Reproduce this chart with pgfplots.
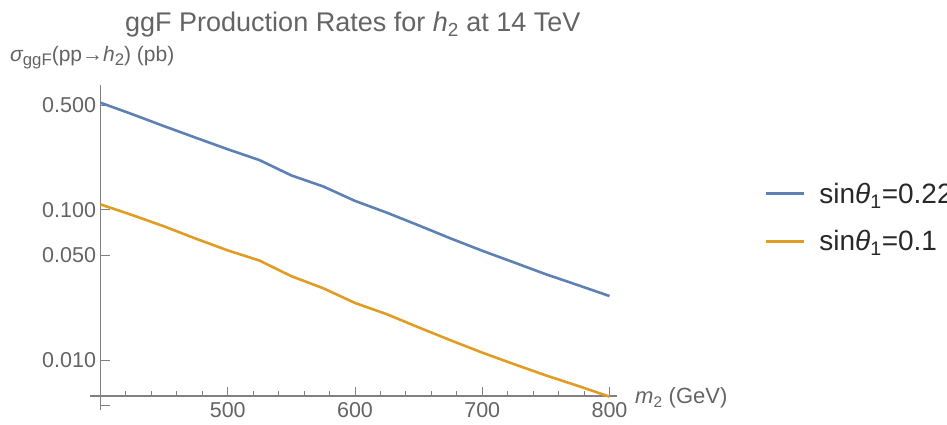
\documentclass[border=0pt]{standalone}
\usepackage{fontspec}
\setmainfont{Liberation Sans}
\usepackage{pgfplots}
\pgfplotsset{compat=1.18}

\definecolor{mmablue}{RGB}{94,129,181}
\definecolor{mmaorange}{RGB}{225,156,36}
\definecolor{axgray}{RGB}{128,128,128}
\definecolor{txtgray}{RGB}{100,100,100}
\definecolor{legtxt}{RGB}{40,40,40}

% subscript a bit larger than \textsubscript, as in Mathematica
\newcommand{\sub}[1]{\raisebox{-0.3ex}{\fontsize{0.8em}{1em}\selectfont #1}}

\begin{document}
\begin{tikzpicture}[x=1pt,y=1pt]
\begin{axis}[
    at={(90pt,15pt)}, anchor=south west,
    scale only axis, width=527pt, height=325pt,
    ymode=log,
    xmin=391.75, xmax=805.9, ymin=0.004642, ymax=0.6813,
    axis x line=bottom, axis y line=left,
    axis x line shift=-14pt, axis y line shift=-10.5pt,
    axis line style={axgray, line width=1.1pt, -},
    tick align=inside,
    major tick length=9pt, minor tick length=5pt,
    tick style={axgray, line width=1pt},
    xtick={400,500,600,700,800}, xticklabels={,500,600,700,800},
    minor x tick num=4,
    ytick={0.005,0.01,0.05,0.1,0.5}, yticklabels={,0.010,0.050,0.100,0.500},
    minor ytick={},
    x tick label style={text=txtgray, font=\fontsize{21.5}{25}\selectfont, yshift=-3pt},
    y tick label style={text=txtgray, font=\fontsize{21.5}{25}\selectfont, xshift=-1pt},
    legend style={draw=none, fill=none, at={(1.28,0.592)}, anchor=west,
        font=\fontsize{28}{34}\selectfont, text=legtxt, row sep=22pt, inner sep=0pt},
    legend cell align=left,
    legend image code/.code={\draw[#1] (0pt,0pt) -- (38pt,0pt); \path (50pt,0pt);},
]
\addplot[mmablue, line width=2.6pt] coordinates {
    (400,0.519) (425,0.435) (450,0.362) (475,0.303) (500,0.254)
    (525,0.215) (550,0.170) (575,0.1436) (600,0.115) (625,0.096)
    (650,0.079) (675,0.0647) (700,0.0535) (725,0.0447) (750,0.0373)
    (775,0.0316) (800,0.0267)};
\addlegendentry{sin{\itshape θ}\textsubscript{1}=0.22}
\addplot[mmaorange, line width=2.6pt] coordinates {
    (400,0.109) (425,0.0925) (450,0.0778) (475,0.0644) (500,0.0538)
    (525,0.0460) (550,0.0362) (575,0.0301) (600,0.0240) (625,0.0202)
    (650,0.0165) (675,0.01355) (700,0.0112) (725,0.00938) (750,0.0079)
    (775,0.00673) (800,0.0057)};
\addlegendentry{sin{\itshape θ}\textsubscript{1}=0.1}
\end{axis}
\node[anchor=base west, inner sep=0, text=txtgray, font=\fontsize{27}{31}\selectfont]
    at (125,393) {ggF Production Rates for {\itshape h}\textsubscript{2} at 14 TeV};
\node[anchor=base west, inner sep=0, text=txtgray, font=\fontsize{21}{25}\selectfont]
    at (10,363) {{\itshape σ}\sub{ggF}(pp→{\itshape h}\sub{2}) (pb)};
\node[anchor=base west, inner sep=0, text=txtgray, font=\fontsize{22}{26}\selectfont]
    at (635,21) {{\itshape m}\textsubscript{2} (GeV)};
\pgfresetboundingbox
\path (0,0) rectangle (947,425);
\end{tikzpicture}
\end{document}
